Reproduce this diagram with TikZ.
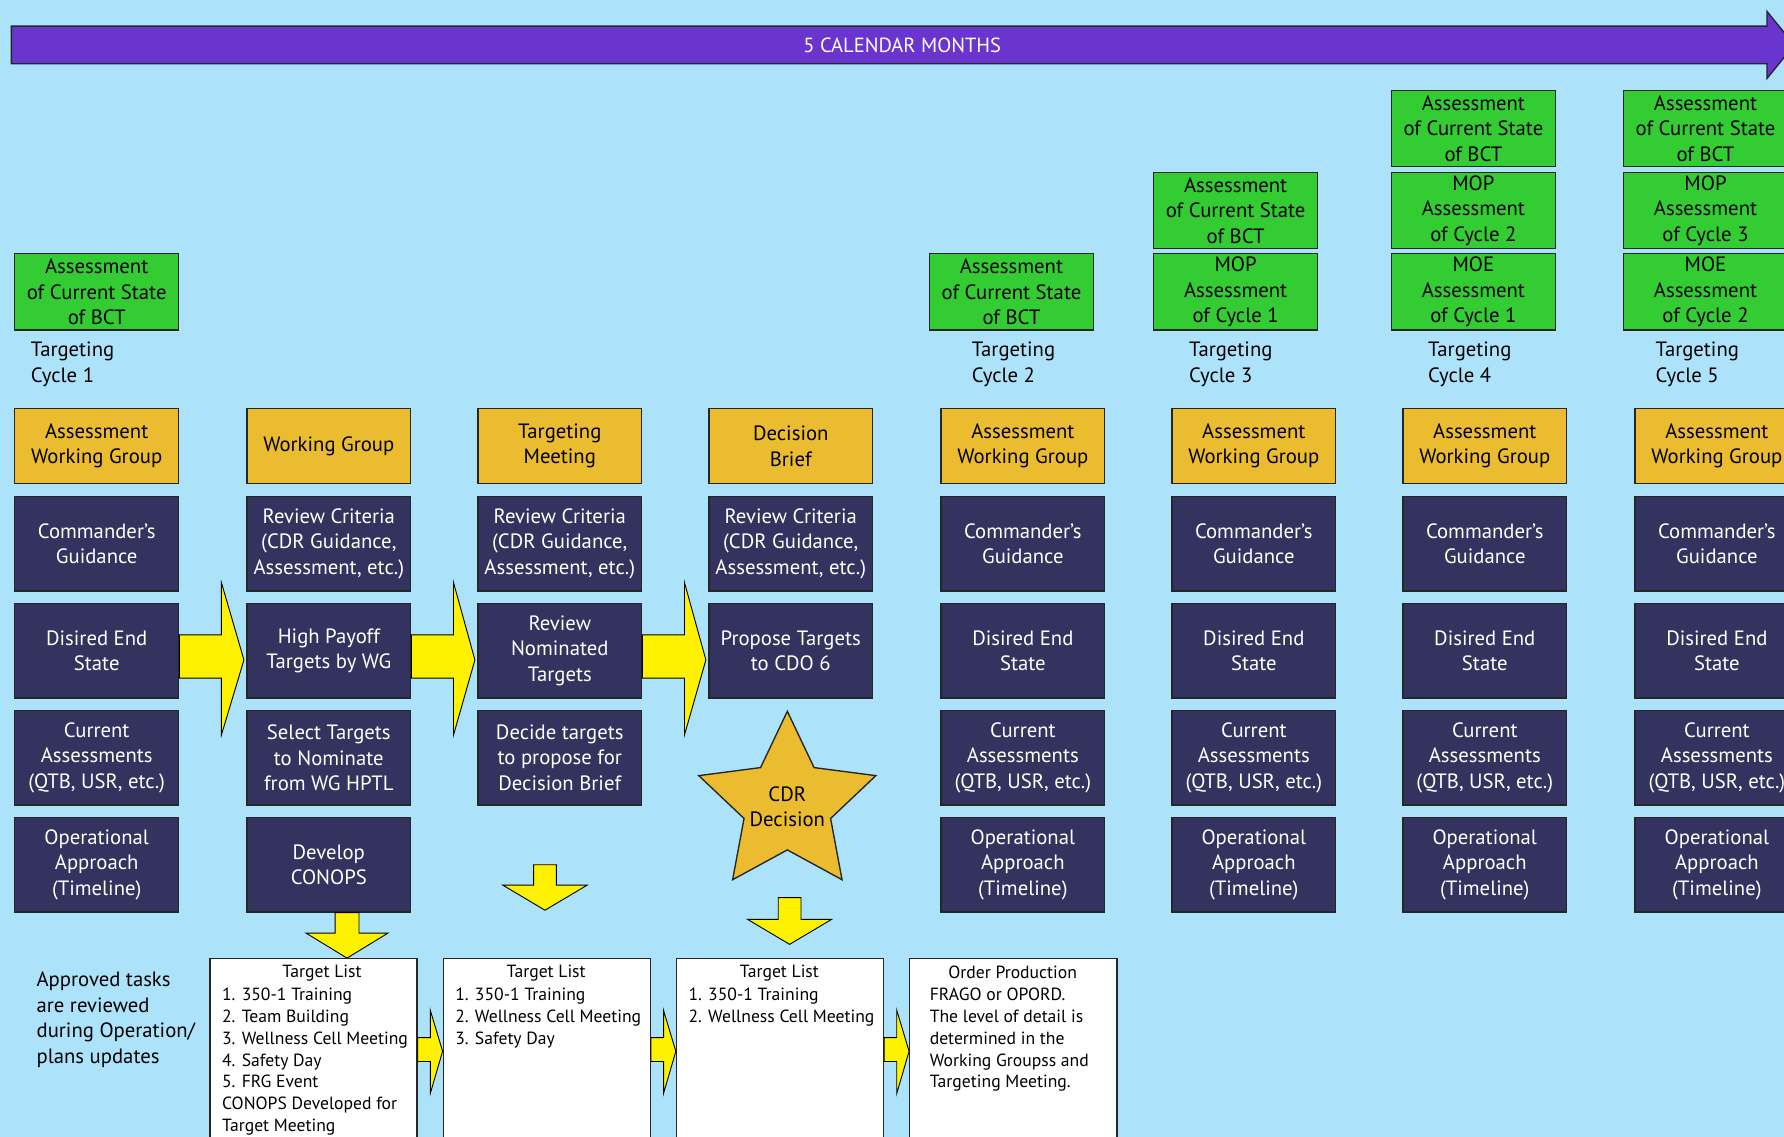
\documentclass[tikz,border=0pt]{standalone}
\usepackage{fontspec}
\setmainfont{PT Sans}
\usetikzlibrary{calc}
\definecolor{sky}{HTML}{ADE3FA}
\definecolor{navy}{HTML}{34335F}
\definecolor{gold}{HTML}{EBBC2F}
\definecolor{leaf}{HTML}{33CC33}
\definecolor{banner}{HTML}{6A35CF}
\begin{document}
\begin{tikzpicture}[x=1pt,y=-1pt,
  box/.style={draw=black!85, line width=1.2pt, minimum width=144pt, inner sep=0pt,
    align=center, font=\fontsize{18.2}{22.5}\selectfont},
  navybox/.style={box, fill=navy, text=white, minimum height=83pt},
  goldbox/.style={box, fill=gold, minimum height=66pt},
  greenbox/.style={box, fill=leaf, minimum height=67pt},
  plaintext/.style={align=left, inner sep=0pt, font=\fontsize{18.2}{22.5}\selectfont},
  listbox/.style={draw=black!85, line width=1.2pt, fill=white, minimum width=182pt,
    minimum height=180pt, anchor=north west, inner sep=0pt},
  listtext/.style={align=left, inner sep=0pt, font=\fontsize{15.5}{19.1}\selectfont},
  yarrow/.style={fill=yellow, draw=black, line width=0.8pt, line join=miter},
]
% canvas
\clip (0,0) rectangle (1568,999);
\fill[sky] (0,0) rectangle (1568,999);

% time line banner
\draw[fill=banner, draw=black!85, line width=1.2pt]
  (10,23) -- (1553,23) -- (1553,10) -- (1577,39.5) -- (1553,69) -- (1553,56) -- (10,56) -- cycle;
\node[text=white, font=\fontsize{18}{21}\selectfont, inner sep=0pt] (months) at (793,39.5) {5 CALENDAR MONTHS};

% ---- cycle 1 ----
\node[greenbox] (a1) at (85,256.5) {Assessment\\of Current State\\of BCT};
\node[plaintext, anchor=west] (tc1) at (27,320) {Targeting\\Cycle 1};
\node[goldbox] (g1) at (85,392) {Assessment\\Working Group};
\node[navybox] (n1a) at (85,478) {Commander’s\\Guidance};
\node[navybox] (n1b) at (85,572) {Disired End\\State};
\node[navybox] (n1c) at (85,666) {Current\\Assessments\\(QTB, USR, etc.)};
\node[navybox] (n1d) at (85,760) {Operational\\Approach\\(Timeline)};

% working group
\node[goldbox] (g2) at (289,392) {Working Group};
\node[navybox] (n2a) at (289,478) {Review Criteria\\(CDR Guidance,\\Assessment, etc.)};
\node[navybox] (n2b) at (289,572) {High Payoff\\Targets by WG};
\node[navybox] (n2c) at (289,666) {Select Targets\\to Nominate\\from WG HPTL};
\node[navybox] (n2d) at (289,760) {Develop\\CONOPS};

% targeting meeting
\node[goldbox] (g3) at (492,392) {Targeting\\Meeting};
\node[navybox] (n3a) at (492,478) {Review Criteria\\(CDR Guidance,\\Assessment, etc.)};
\node[navybox] (n3b) at (492,572) {Review\\Nominated\\Targets};
\node[navybox] (n3c) at (492,666) {Decide targets\\to propose for\\Decision Brief};

% decision brief
\node[goldbox] (g4) at (695,392) {Decision\\Brief};
\node[navybox] (n4a) at (695,478) {Review Criteria\\(CDR Guidance,\\Assessment, etc.)};
\node[navybox] (n4b) at (695,572) {Propose Targets\\to CDO 6};

% commander's decision star
\coordinate (starc) at (692,707);
\draw[fill=gold, draw=black!85, line width=1.2pt, line join=miter]
  (starc) +(-90:81.8) -- +(-54:40) -- +(-18:81.8) -- +(18:40) -- +(54:81.8)
  -- +(90:40) -- +(126:81.8) -- +(162:40) -- +(198:81.8) -- +(234:40) -- cycle;
\node[box, draw=none, minimum width=0pt] (cdr) at (692,709) {CDR\\Decision};

% later assessment cycles
\foreach \c/\x in {5/899,6/1102,7/1305,8/1509} {
  \node[goldbox] (g\c) at (\x,392) {Assessment\\Working Group};
  \node[navybox] (n\c a) at (\x,478) {Commander’s\\Guidance};
  \node[navybox] (n\c b) at (\x,572) {Disired End\\State};
  \node[navybox] (n\c c) at (\x,666) {Current\\Assessments\\(QTB, USR, etc.)};
  \node[navybox] (n\c d) at (\x,760) {Operational\\Approach\\(Timeline)};
}

% assessment stacks
\node[greenbox] (a5) at (889,256.5) {Assessment\\of Current State\\of BCT};
\node[plaintext, anchor=west] (tc2) at (854,320) {Targeting\\Cycle 2};

\node[greenbox] (a6t) at (1086,185) {Assessment\\of Current State\\of BCT};
\node[greenbox] (a6) at (1086,256.5) {MOP\\Assessment\\of Cycle 1};
\node[plaintext, anchor=west] (tc3) at (1045,320) {Targeting\\Cycle 3};

\node[greenbox] (a7t) at (1295,113) {Assessment\\of Current State\\of BCT};
\node[greenbox] (a7m) at (1295,185) {MOP\\Assessment\\of Cycle 2};
\node[greenbox] (a7) at (1295,256.5) {MOE\\Assessment\\of Cycle 1};
\node[plaintext, anchor=west] (tc4) at (1255,320) {Targeting\\Cycle 4};

\node[greenbox] (a8t) at (1499,113) {Assessment\\of Current State\\of BCT};
\node[greenbox] (a8m) at (1499,185) {MOP\\Assessment\\of Cycle 3};
\node[greenbox] (a8) at (1499,256.5) {MOE\\Assessment\\of Cycle 2};
\node[plaintext, anchor=west] (tc5) at (1455,320) {Targeting\\Cycle 5};

% block arrows between the steps
\foreach \a/\b in {n1b/n2b, n2b/n3b, n3b/n4b} {
  \draw[yarrow] ($(\a.east)+(0,-14)$) -- ($(\a.east)+(37,-14)$) -- ($(\a.east)+(37,-60)$)
    -- ($(\b.west)+(-2,8)$) -- ($(\a.east)+(37,74)$) -- ($(\a.east)+(37,24)$)
    -- ($(\a.east)+(0,24)$) -- cycle;
}

% downward arrows
\draw[yarrow] ($(n2d.south)+(5.5,0)$) -- ++(21,0) -- ++(0,18) -- ++(25.5,0)
  -- ($(n2d.south)+(16,40)$) -- ($(n2d.south)+(-20,18)$) -- ++(25.5,0) -- cycle;
\coordinate (dn2) at (479,760);
\draw[yarrow] ($(dn2)+(-10,0)$) -- ++(20,0) -- ++(0,18) -- ++(27,0)
  -- ($(dn2)+(0,40)$) -- ($(dn2)+(-37,18)$) -- ++(27,0) -- cycle;
\coordinate (dn3) at (694,789);
\draw[yarrow] ($(dn3)+(-10,0)$) -- ++(20,0) -- ++(0,19) -- ++(27,0)
  -- ($(dn3)+(0,41)$) -- ($(dn3)+(-37,19)$) -- ++(27,0) -- cycle;

% target lists and order production
\node[listbox] (t1) at (184,842) {};
\node[listbox] (t2) at (389,842) {};
\node[listbox] (t3) at (594,842) {};
\node[listbox] (t4) at (799,842) {};

\node[listtext, anchor=center] (t1h) at (283,855) {Target List};
\node[listtext, anchor=north west] (t1l) at (195,868.5)
  {1. 350-1 Training\\2. Team Building\\3. Wellness Cell Meeting\\4. Safety Day\\5. FRG Event\\CONOPS Developed for\\Target Meeting};
\node[listtext, anchor=center] (t2h) at (480,855) {Target List};
\node[listtext, anchor=north west] (t2l) at (400,868.5)
  {1. 350-1 Training\\2. Wellness Cell Meeting\\3. Safety Day};
\node[listtext, anchor=center] (t3h) at (685,855) {Target List};
\node[listtext, anchor=north west] (t3l) at (605,868.5)
  {1. 350-1 Training\\2. Wellness Cell Meeting};
\node[listtext, anchor=center] (t4h) at (890,855) {Order Production};
\node[listtext, anchor=north west] (t4l) at (817,868.5)
  {FRAGO or OPORD.\\The level of detail is\\determined in the\\Working Groupss and\\Targeting Meeting.};

\foreach \a/\b in {t1/t2, t2/t3, t3/t4} {
  \draw[yarrow] ($(\a.north east)+(0,70)$) -- ($(\a.north east)+(11,70)$) -- ($(\a.north east)+(11,46)$)
    -- ($(\b.north west)+(0,82)$) -- ($(\a.north east)+(11,119)$) -- ($(\a.north east)+(11,91)$)
    -- ($(\a.north east)+(0,91)$) -- cycle;
}

\node[plaintext, anchor=north west] (note) at (32,854)
  {Approved tasks\\are reviewed\\during Operation/\\plans updates};
\end{tikzpicture}
\end{document}
